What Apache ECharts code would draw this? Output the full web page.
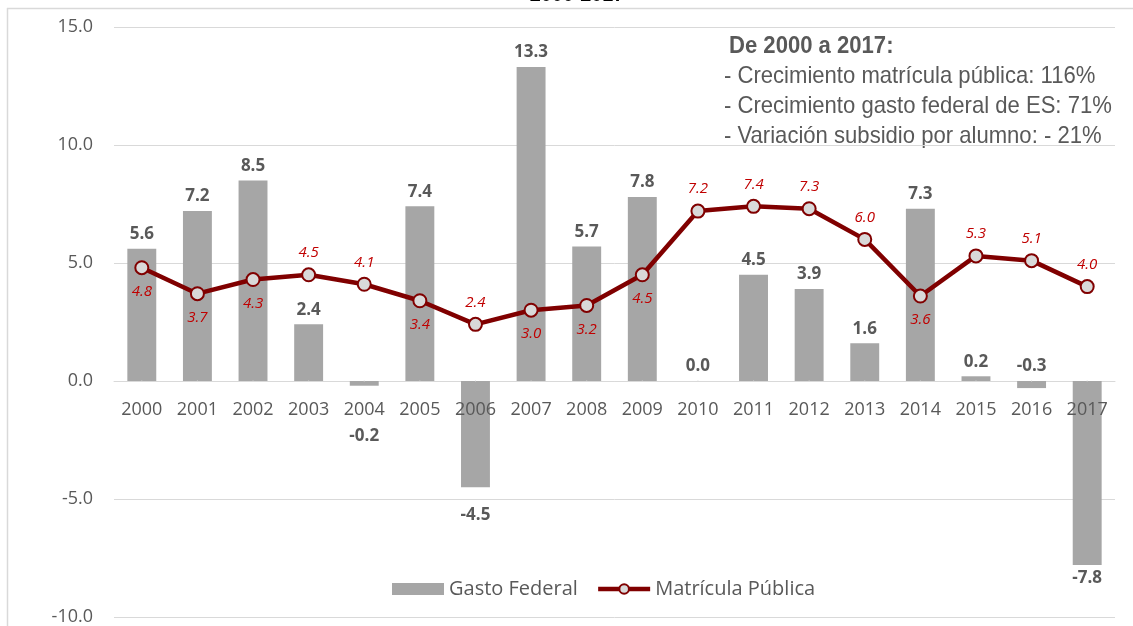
<!DOCTYPE html>
<html>
<head>
<meta charset="utf-8">
<script src="https://cdn.jsdelivr.net/npm/echarts@6/dist/echarts.min.js"></script>
<style>html,body{margin:0;padding:0;background:#fff}#c{width:1133px;height:626px}</style>
</head>
<body>
<div id="c"></div>
<script>
const years = ['2000','2001','2002','2003','2004','2005','2006','2007','2008','2009','2010','2011','2012','2013','2014','2015','2016','2017'];
const gastoFederal = [5.6,7.2,8.5,2.4,-0.2,7.4,-4.5,13.3,5.7,7.8,0.0,4.5,3.9,1.6,7.3,0.2,-0.3,-7.8];
const matriculaPublica = [4.8,3.7,4.3,4.5,4.1,3.4,2.4,3.0,3.2,4.5,7.2,7.4,7.3,6.0,3.6,5.3,5.1,4.0];
const titleText = '2000-2017';
const noteLines = ['De 2000 a 2017:', '- Crecimiento matrícula pública: 116%', '- Crecimiento gasto federal de ES: 71%', '- Variación subsidio por alumno: - 21%'];

// style: which line labels sit below the point (by year)
const lineLabelBelowYears = ['2000','2001','2002','2005','2007','2008','2009','2014'];
// style: label placement for negative bars (by year)
const negLabelStyle = {'2004': {position: 'bottom', distance: 42}, '2006': {position: 'bottom', distance: 19}, '2016': {position: 'top', distance: 6}, '2017': {position: 'bottom', distance: 5}};

const FONT = "'Open Sans', 'Noto Sans', sans-serif";
const NARROW = "'Liberation Sans Narrow', 'Liberation Sans', Arial, sans-serif";

const barData = gastoFederal.map((v, i) => {
  const y = years[i];
  if (v < 0) {
    return {value: v, label: negLabelStyle[y] || {position: 'bottom', distance: 8}};
  }
  return {value: v};
});
const lineData = matriculaPublica.map((v, i) => {
  const below = lineLabelBelowYears.indexOf(years[i]) >= 0;
  return {value: v, label: {position: below ? 'bottom' : 'top', distance: below ? 9 : 7}};
});
// category labels anchored on the zero line (x axis crosses at 0)
const zeroLabelData = years.map(y => [y, 0]);

const noteStyle = (txt, bold) => ({text: txt, fontFamily: NARROW, fontWeight: bold ? 'bold' : 'normal', fontSize: 24, fill: '#595959', align: 'left', verticalAlign: 'middle'});

const chart = echarts.init(document.getElementById('c'), null, {renderer: 'canvas'});
chart.setOption({
  animation: false,
  backgroundColor: '#fff',
  grid: {left: 114, right: 18, top: 27, bottom: 9, containLabel: false, outerBoundsMode: 'none'},
  legend: {
    left: 387, top: 574,
    itemGap: 18,
    itemWidth: 52, itemHeight: 12,
    textStyle: {fontFamily: FONT, fontSize: 20, color: '#595959'},
    data: [
      {name: 'Gasto Federal', icon: 'rect', itemStyle: {color: '#a6a6a6'}},
      {name: 'Matrícula Pública', lineStyle: {width: 4.5, color: '#800000'}, itemStyle: {color: '#d9d9d9', borderColor: '#800000', borderWidth: 2}}
    ]
  },
  xAxis: {
    type: 'category',
    data: years,
    axisLine: {onZero: true, lineStyle: {color: '#d9d9d9', width: 1}},
    axisTick: {show: false},
    axisLabel: {show: false},
    splitLine: {show: false}
  },
  yAxis: {
    type: 'value',
    min: -10, max: 15, interval: 5,
    axisLine: {show: false},
    axisTick: {show: false},
    axisLabel: {fontFamily: FONT, fontSize: 18, color: '#595959', margin: 21, formatter: v => v.toFixed(1)},
    splitLine: {lineStyle: {color: '#d9d9d9', width: 1}}
  },
  graphic: [
    {type: 'line', shape: {x1: 7, y1: 8.5, x2: 1133, y2: 8.5}, style: {stroke: '#d9d9d9', lineWidth: 1.5}, silent: true},
    {type: 'line', shape: {x1: 7.5, y1: 8, x2: 7.5, y2: 626}, style: {stroke: '#d9d9d9', lineWidth: 1.5}, silent: true},
    {type: 'text', x: 577, y: 6, scaleX: 0.9, style: {text: titleText, fontFamily: NARROW, fontWeight: 'bold', fontSize: 22, fill: '#000', align: 'center', verticalAlign: 'bottom'}},
    {type: 'text', x: 729, y: 46, scaleX: 0.92, style: noteStyle(noteLines[0], true)},
    {type: 'text', x: 724, y: 76, scaleX: 0.92, style: noteStyle(noteLines[1], false)},
    {type: 'text', x: 724, y: 106, scaleX: 0.92, style: noteStyle(noteLines[2], false)},
    {type: 'text', x: 724, y: 136, scaleX: 0.92, style: noteStyle(noteLines[3], false)}
  ],
  series: [
    {
      name: 'Gasto Federal',
      type: 'bar',
      data: barData,
      barWidth: '52%',
      itemStyle: {color: '#a6a6a6'},
      label: {
        show: true, position: 'top', distance: 6,
        fontFamily: FONT, fontSize: 17, fontWeight: 'bold', color: '#595959',
        formatter: p => Number(p.value).toFixed(1)
      },
      z: 2
    },
    {
      name: 'Matrícula Pública',
      type: 'line',
      data: lineData,
      lineStyle: {color: '#800000', width: 4.5},
      symbol: 'circle',
      symbolSize: 13,
      itemStyle: {color: '#d9d9d9', borderColor: '#800000', borderWidth: 2},
      label: {
        show: true,
        fontFamily: FONT, fontSize: 15, fontStyle: 'italic', color: '#c00000',
        formatter: p => Number(p.value).toFixed(1)
      },
      z: 3
    },
    {
      name: 'axisLabels',
      type: 'scatter',
      data: zeroLabelData,
      symbol: 'rect',
      symbolSize: 1,
      silent: true,
      itemStyle: {color: '#d9d9d9', opacity: 1},
      emphasis: {disabled: true},
      label: {
        show: true, position: 'bottom', distance: 19,
        fontFamily: FONT, fontSize: 18, color: '#595959', opacity: 1, textBorderWidth: 0,
        formatter: p => p.value[0]
      },
      z: 4
    }
  ]
});
</script>
</body>
</html>
